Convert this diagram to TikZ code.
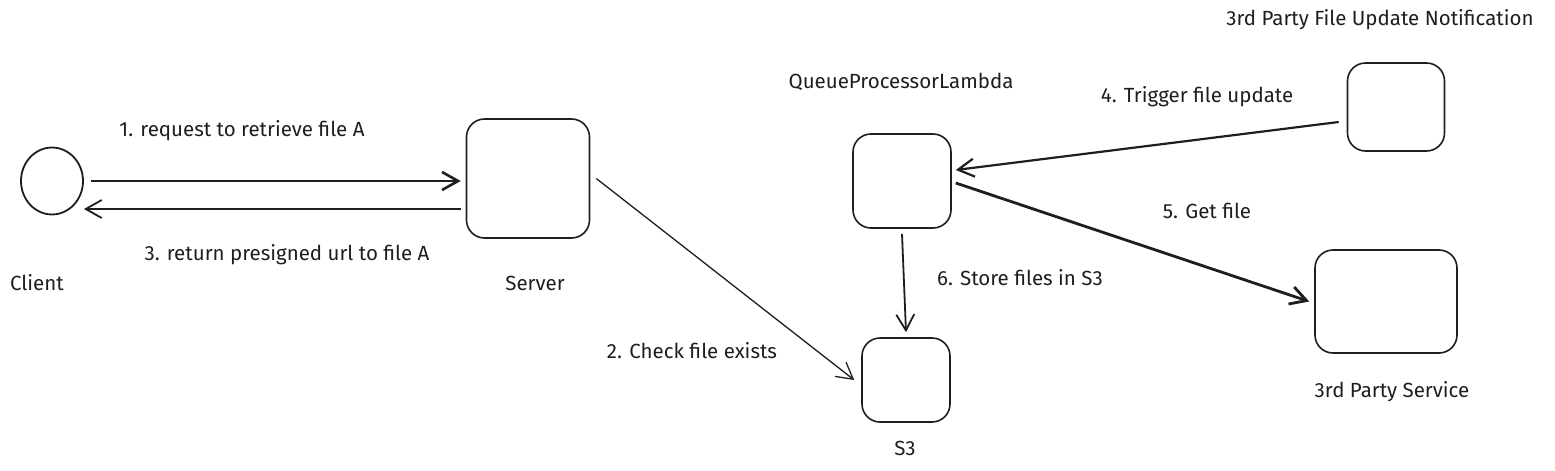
\documentclass[tikz,border=0pt]{standalone}
\usepackage{fontspec}
\setmainfont{Fira Sans}
\usepackage{xcolor}
\usepackage{tikz}
\usetikzlibrary{arrows.meta,positioning}
\definecolor{ink}{HTML}{1E1E1E}

\begin{document}
\begin{tikzpicture}[
  x=1pt, y=-1pt,
  font=\fontsize{20.5}{24}\selectfont,
  every node/.style={text=ink},
  box/.style={
    draw=ink,
    line width=1.6pt,
    rounded corners=18pt,
    inner sep=0pt
  },
  tag/.style={
    inner sep=1pt,
    anchor=center
  },
  arrow/.style={
    draw=ink,
    -{Straight Barb[length=16pt,width=18pt]},
    line width=1.8pt
  }
]
\useasboundingbox (0,0) rectangle (1555,471);

%---------------------------------
% Shapes
%---------------------------------
\node[draw=ink, line width=1.8pt, circle, minimum width=62pt, inner sep=0pt,
      yscale=1.08] (client) at (52,181) {};
\node[box, minimum width=123pt, minimum height=119pt] (server) at (528,178.5) {};
\node[box, minimum width=98pt,  minimum height=94pt]  (qpl)    at (902,181) {};
\node[box, minimum width=88pt,  minimum height=84pt]  (s3)     at (906,380) {};
\node[box, minimum width=97pt,  minimum height=88pt]  (notif)  at (1396,107) {};
\node[box, minimum width=142pt, minimum height=103pt] (svc)    at (1386,301.5) {};

%---------------------------------
% Names
%---------------------------------
\node[tag] (clientname) at (37,283)   {Client};
\node[tag] (servername) at (535,283)  {Server};
\node[tag] (qplname)    at (901,82)   {QueueProcessorLambda};
\node[tag] (s3name)     at (905,448)  {S3};
\node[tag] (notifname)  at (1380,20)  {3rd Party File Update Notification};
\node[tag] (svcname)    at (1392,392) {3rd Party Service};

%---------------------------------
% Step labels
%---------------------------------
\node[tag] (step1) at (242,131)  {1. request to retrieve file A};
\node[tag] (step2) at (692,351)  {2. Check file exists};
\node[tag] (step3) at (287,255)  {3. return presigned url to file A};
\node[tag] (step4) at (1197,97)  {4. Trigger file update};
\node[tag] (step5) at (1207,211) {5. Get file};
\node[tag] (step6) at (1020,278) {6. Store files in S3};

%---------------------------------
% Connections
%---------------------------------
\draw[arrow, line width=2.6pt] ([xshift=7pt]client.east) -- ([xshift=-5pt]client.east -| server.west);
\draw[arrow, line width=1.3pt] ([xshift=6pt]server.east) -- ([xshift=-7pt]s3.west);
\draw[arrow] ([yshift=-30.5pt,xshift=-5pt]server.west) -- ([yshift=-28pt]client.east);
\draw[arrow, line width=2.2pt] ([shift={(-8pt,-15pt)}]notif.west) -- ([shift={(4pt,11pt)}]qpl.east);
\draw[arrow, line width=2.8pt] ([xshift=4pt,yshift=-2pt]qpl.east) -- ([xshift=-5pt]svc.west);
\draw[arrow] ([yshift=-5pt]qpl.south) -- ([yshift=5pt]s3.north);

\end{tikzpicture}
\end{document}
